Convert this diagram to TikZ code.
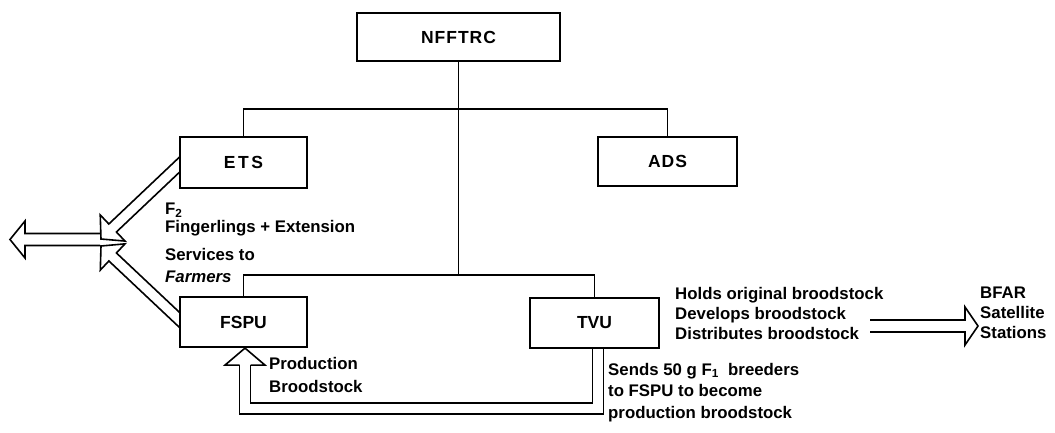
\documentclass[tikz,border=0pt]{standalone}
\usepackage{fontspec}
\setmainfont{Liberation Sans}
\usetikzlibrary{calc,backgrounds}
\newcommand\holarrow[5]{%
  \coordinate (hab) at ($(#2)!#5!(#1)$);
  \draw[conn] ($(#1)!#3!90:(#2)$) -- ($(hab)!#3!90:(#2)$) -- ($(hab)!#4!90:(#2)$)
    -- (#2) -- ($(hab)!#4!-90:(#2)$) -- ($(hab)!#3!-90:(#2)$) -- ($(#1)!#3!-90:(#2)$);
}
\begin{document}
\begin{tikzpicture}[x=1pt,y=-1pt,
  box/.style={draw, line width=2.2pt, fill=white, inner sep=0pt,
    font=\fontsize{17.5}{20}\selectfont\bfseries},
  conn/.style={line width=1.6pt, line join=miter},
  lbl/.style={inner sep=0pt, align=left, anchor=north west,
    font=\fontsize{16.8}{20}\selectfont\bfseries}]
\useasboundingbox (0,0) rectangle (1055,432);

% boxes
\node[box, minimum width=203pt, minimum height=48pt] (nfftrc) at (458.5,37)
  {N\kern1pt F\kern1pt F\kern1pt T\kern1pt R\kern1pt C};
\node[box, minimum width=127pt, minimum height=51pt] (ets) at (243.5,162.5)
  {E\kern2.5pt T\kern2.5pt S};
\node[box, minimum width=139pt, minimum height=49pt] (ads) at (667.5,161.5)
  {A\kern1pt D\kern1pt S};
\node[box, minimum width=127pt, minimum height=50pt] (fspu) at (243.5,322) {FSPU};
\node[box, minimum width=129pt, minimum height=50pt] (tvu) at (594.5,323) {TVU};

% tree connectors
\coordinate (bar1) at (458.5,109);
\coordinate (bar2) at (458.5,275);
\draw[conn] (ets.north) |- (bar1) -| (ads.north);
\draw[conn] (nfftrc.south) -- (bar2);
\draw[conn] (fspu.north) |- (bar2) -| (tvu.north);

% labels
\node[lbl] (f2lbl) at (165,203)
  {F\textsubscript{2}\\[-2pt] Fingerlings + Extension\\[8pt] Services to\\[2pt] \textit{Farmers}};
\node[lbl] (prodlbl) at (269,357) {Production\\[3pt] Broodstock};
\node[lbl] (holdslbl) at (675,287)
  {Holds original broodstock\\ Develops broodstock\\ Distributes broodstock};
\node[lbl] (bfar) at (980,287) {BFAR\\ Satellite\\ Stations};
\node[lbl] (sendslbl) at (608,363)
  {Sends 50 g F\textsubscript{1}\ \ breeders\\[1.5pt] to FSPU to become\\[1.5pt] production broodstock};

% hollow arrows (behind the boxes)
\begin{pgfonlayer}{background}
  \coordinate (etsfoot) at ($(ets.west)+(6,-3)$);
  \coordinate (etstip) at (101,239);
  \coordinate (fspufoot) at ($(fspu.west)+(6,3)$);
  \coordinate (fsputip) at (101,246);
  \coordinate (leftstart) at (100,239.5);
  \coordinate (lefttip) at (10,239.5);
  \coordinate (bfarstart) at (870,326);
  \coordinate (bfartip) at (978,326);
  \holarrow{etsfoot}{etstip}{5.5pt}{18pt}{16pt}
  \holarrow{fspufoot}{fsputip}{5.5pt}{18pt}{16pt}
  \holarrow{leftstart}{lefttip}{6pt}{18.5pt}{15pt}
  \holarrow{bfarstart}{bfartip}{6pt}{19pt}{13pt}
  % feedback TVU -> FSPU
  \coordinate (fbstart) at ($(tvu.south)+(3.5,-4)$);
  \coordinate (fbtip) at ($(fspu.south)+(1.5,0)$);
  \coordinate (fbbase) at ($(fbtip)+(0,17)$);
  \draw[line width=1.6pt, double=white, double distance=9.4pt]
    (fbstart) |- ($(fbbase)+(0,43.5)$) -- (fbbase);
  \draw[conn] ($(fbbase)+(-5.5,0)$) -- ($(fbbase)+(-20,0)$) -- (fbtip)
    -- ($(fbbase)+(20,0)$) -- ($(fbbase)+(5.5,0)$);
\end{pgfonlayer}
\end{tikzpicture}
\end{document}
